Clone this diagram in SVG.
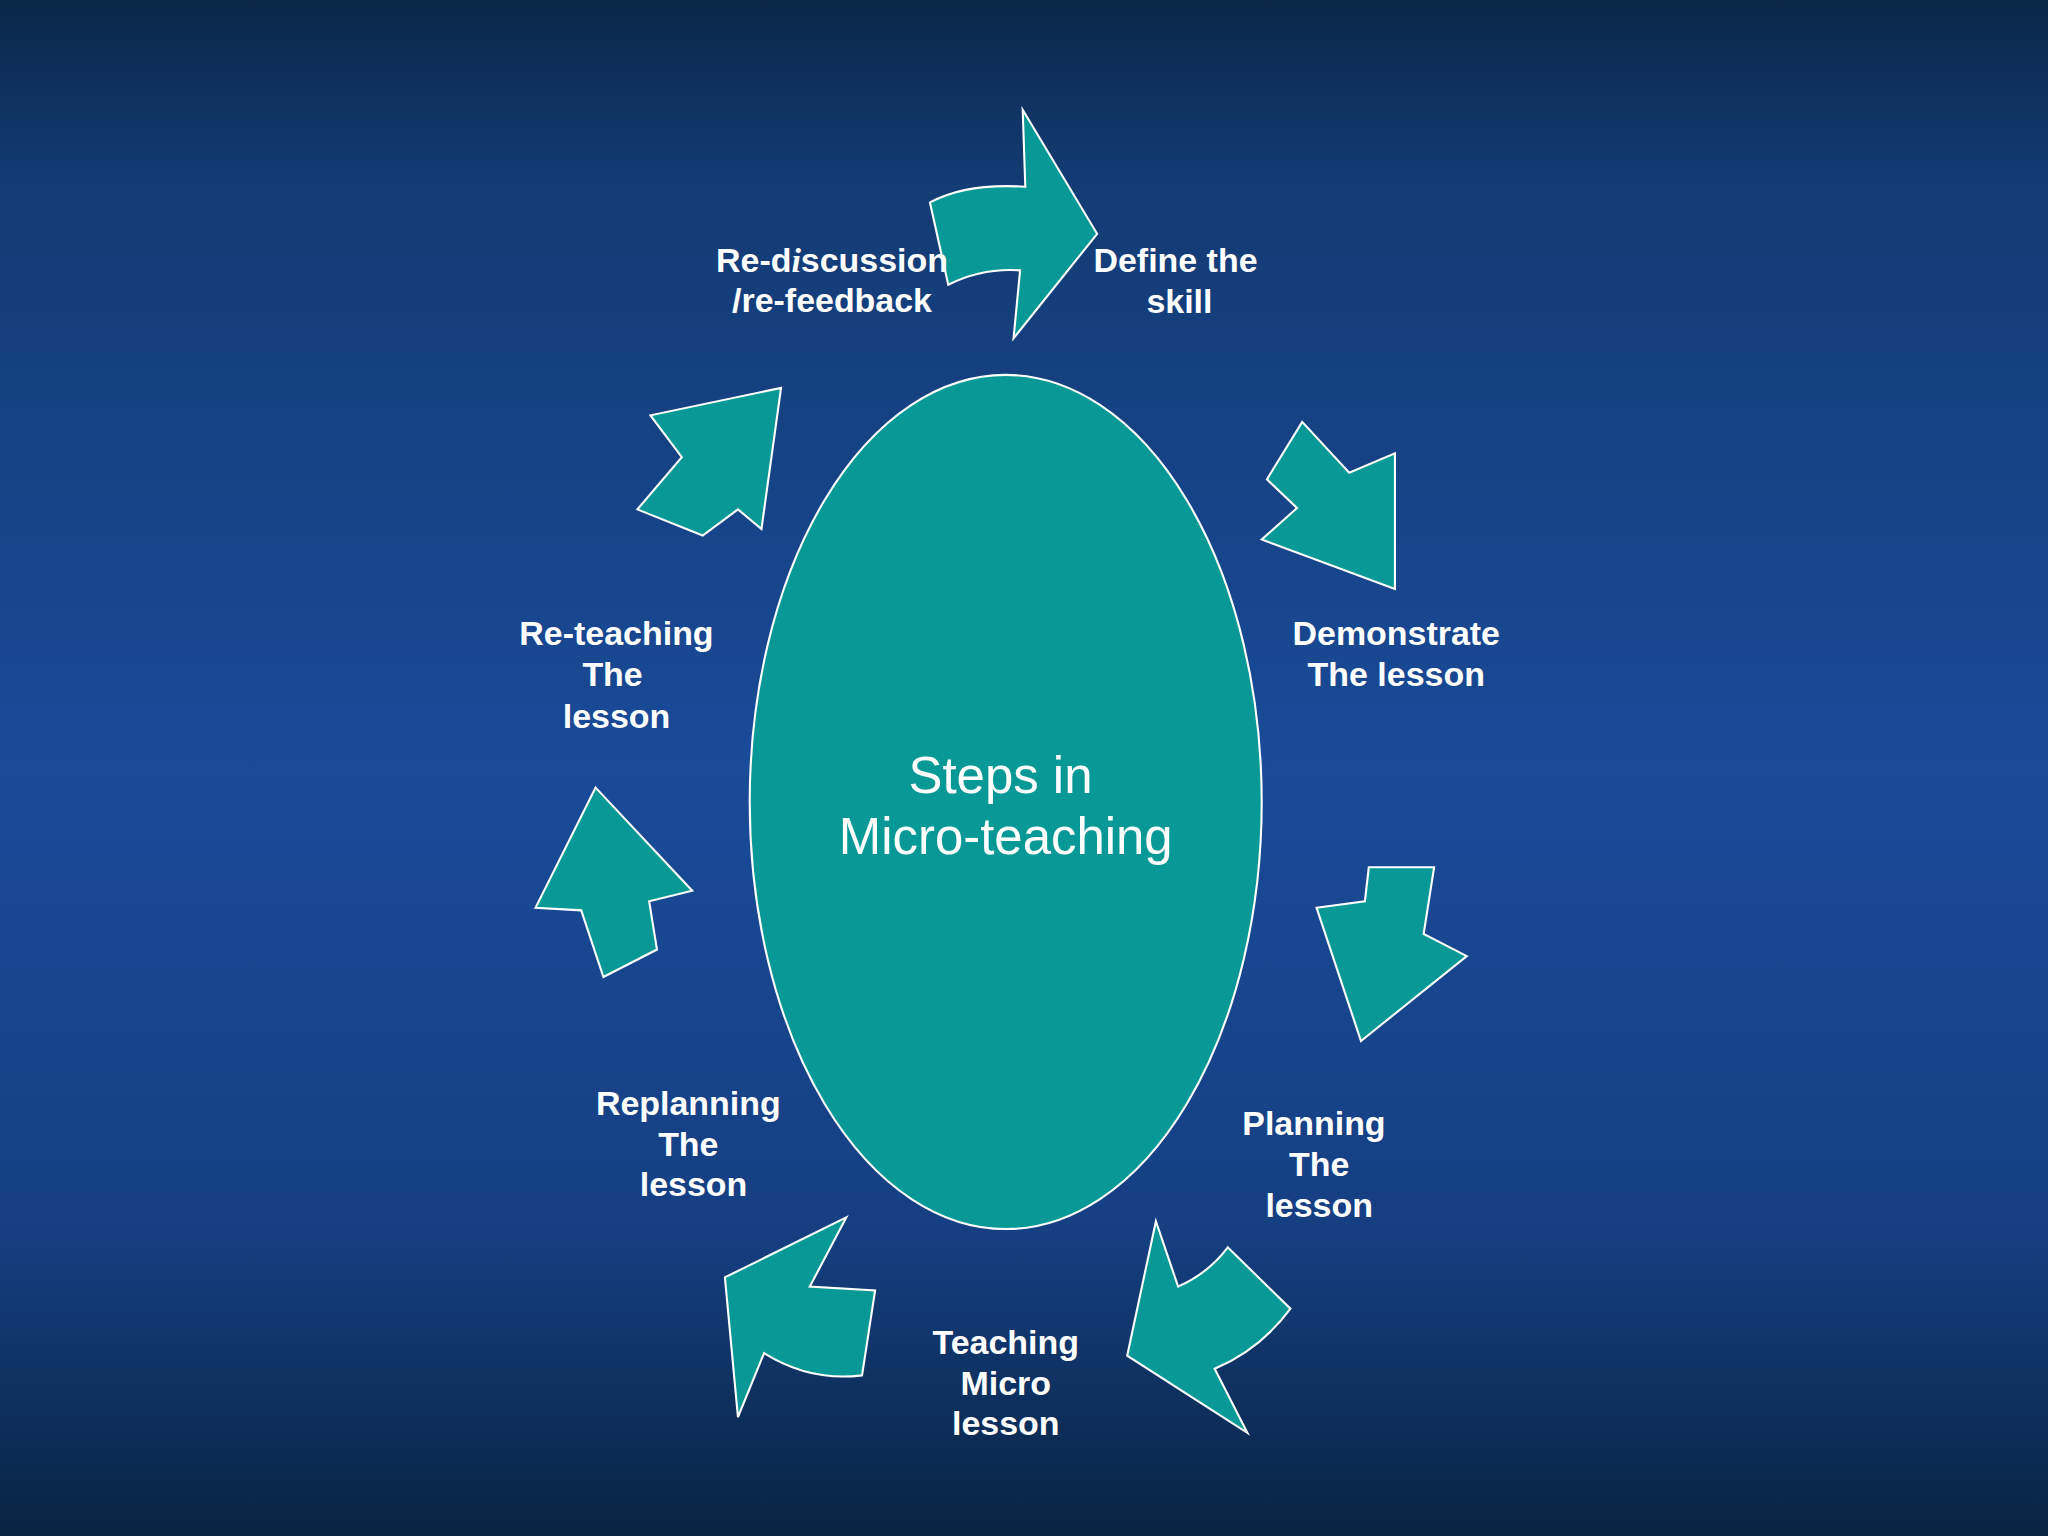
<svg xmlns="http://www.w3.org/2000/svg" width="2048" height="1536" viewBox="0 0 2048 1536">
<defs>
<linearGradient id="bg" x1="0" y1="0" x2="0" y2="1">
<stop offset="0" stop-color="#0a2748"/><stop offset="0.12" stop-color="#133b74"/><stop offset="0.5" stop-color="#1a4a98"/><stop offset="0.8" stop-color="#163f82"/><stop offset="1" stop-color="#082442"/>
</linearGradient>
<style>
.ar{fill:#089996;stroke:#fff;stroke-width:1.6}
.lb{font-family:"Liberation Sans",Arial,sans-serif;font-weight:bold;font-size:26px;fill:#fff;text-anchor:middle}
.ct{font-family:"Liberation Sans",Arial,sans-serif;font-size:39px;fill:#fff;text-anchor:middle}
</style>
</defs>
<rect width="2048" height="1536" fill="url(#bg)"/>
<g transform="scale(1.30612)">
<g id="center"><ellipse cx="770" cy="614" rx="196" ry="327" class="ar"/>
<text class="ct" x="766" y="607">Steps in</text><text class="ct" x="770" y="654">Micro-teaching</text></g>
<g id="connectors">
<path class="ar" d="M783,84 L840,179 L776,259 L781,207 Q752,205 726,218 L712,155 Q740,140 785,143 Z"/>
<path class="ar" d="M997,323 L1033,362 L1068,347 L1068,451 L966,413 L993,389 L970,367 Z"/>
<path class="ar" d="M1008,695 L1045,690 L1048,664 L1098,664 L1090,715 L1123,732 L1042,797 Z"/>
<path class="ar" d="M885,935 L902,985 Q925,975 940,955 L988,1002 Q965,1033 930,1048 L955,1097 L863,1038 Z"/>
<path class="ar" d="M648,932 L620,985 L670,988 L660,1053 Q620,1058 585,1036 L565,1085 L555,978 Z"/>
<path class="ar" d="M456,603 L530,682 L497,690 L503,727 L462,748 L445,697 L410,695 Z"/>
<path class="ar" d="M598,297 L583,405 L565,390 L538,410 L488,390 L522,350 L498,318 Z"/>
</g>
<g id="n1"><text class="lb" x="637" y="208">Re-d<tspan font-style="italic" font-family="Liberation Serif,serif">i</tspan>scussion</text><text class="lb" x="637" y="239">/re-feedback</text></g>
<g id="n2"><text class="lb" x="900" y="208">Define the</text><text class="lb" x="903" y="240">skill</text></g>
<g id="n3"><text class="lb" x="1069" y="494">Demonstrate</text><text class="lb" x="1069" y="525">The lesson</text></g>
<g id="n4"><text class="lb" x="1006" y="869">Planning</text><text class="lb" x="1010" y="900">The</text><text class="lb" x="1010" y="932">lesson</text></g>
<g id="n5"><text class="lb" x="770" y="1037">Teaching</text><text class="lb" x="770" y="1068">Micro</text><text class="lb" x="770" y="1099">lesson</text></g>
<g id="n6"><text class="lb" x="527" y="854">Replanning</text><text class="lb" x="527" y="885">The</text><text class="lb" x="531" y="916">lesson</text></g>
<g id="n7"><text class="lb" x="472" y="494">Re-teaching</text><text class="lb" x="469" y="525">The</text><text class="lb" x="472" y="557">lesson</text></g>
</g>
</svg>
